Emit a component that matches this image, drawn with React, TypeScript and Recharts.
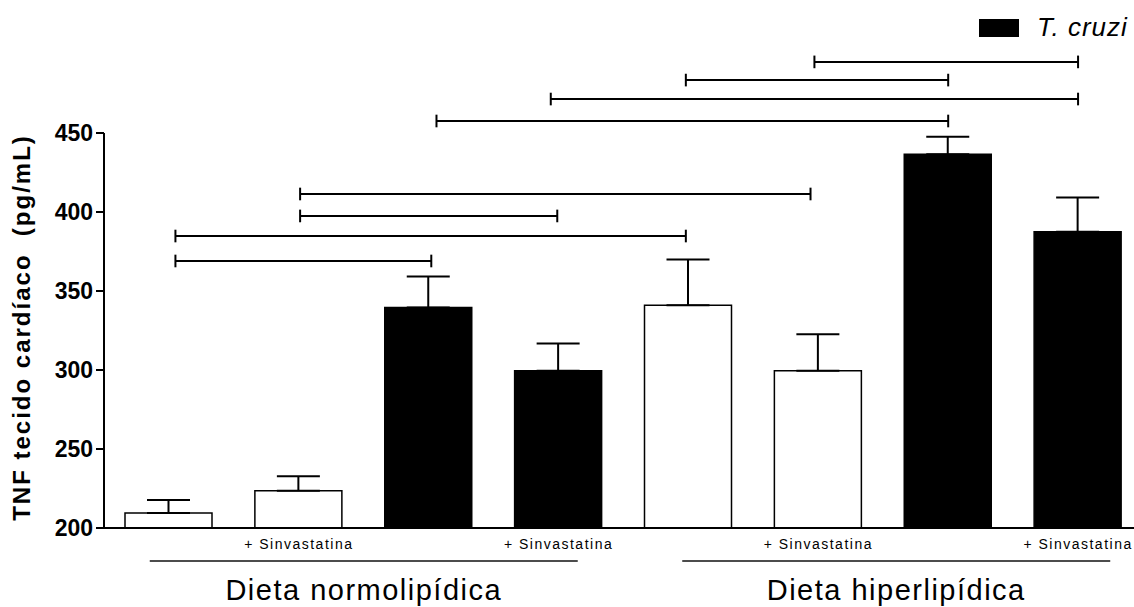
import {
  BarChart,
  Bar,
  Cell,
  XAxis,
  YAxis,
  ErrorBar,
  ReferenceLine,
  Legend,
} from "recharts";

// bar slots along the x axis (0..7), two diets x (control / T. cruzi) x (+/- sinvastatina)
const POSITIONS = [0, 1, 2, 3, 4, 5, 6, 7];
const TREATMENT = ["", "+ Sinvastatina", "", "+ Sinvastatina", "", "+ Sinvastatina", "", "+ Sinvastatina"];
const INFECTED = [false, false, true, true, false, false, true, true];
const TNF_MEAN = [209.5, 223.5, 339.5, 299.5, 341, 299.5, 436.5, 387.5];
const TNF_SEM = [8.2, 9.3, 19.6, 17.3, 29, 23.2, 11.2, 21.7];

const DIET_LABELS = ["Dieta normolipídica", "Dieta hiperlipídica"];
const DIET_CENTERS = [1.5, 5.6];

const Y_TICKS = [200, 250, 300, 350, 400, 450];
const Y_LABEL = "TNF tecido cardíaco  (pg/mL)";
const LEGEND_LABEL = "T. cruzi";

// significance brackets: from slot, to slot, height in pg/mL
const BRACKET_FROM = [4.97, 3.98, 2.94, 2.06, 1.01, 1.01, 0.05, 0.05];
const BRACKET_TO = [7.0, 6.0, 7.0, 6.0, 4.94, 2.99, 3.98, 2.02];
const BRACKET_Y = [495, 483.5, 471.5, 457.6, 411.4, 397.5, 384.8, 369];
const CAP = 4; // half height of bracket end ticks, pg/mL

const FONT = "'Liberation Sans', Arial, Helvetica, sans-serif";
const W = 1143;
const H = 607;

const data = POSITIONS.map((x, i) => ({
  x,
  mean: TNF_MEAN[i],
  err: [0, TNF_SEM[i]],
}));

function TreatmentTick(props: any) {
  const { x, y, payload } = props;
  const label = TREATMENT[payload.value] ?? "";
  return (
    <text
      x={x}
      y={y + 21}
      textAnchor="middle"
      fontSize={14}
      fontFamily={FONT}
      fill="#000"
      style={{ letterSpacing: 1.5 }}
    >
      {label}
    </text>
  );
}

function DietTick(props: any) {
  const { x, y, payload } = props;
  const i = DIET_CENTERS.indexOf(payload.value);
  return (
    <g>
      <line x1={x - 214} x2={x + 214} y1={y + 3} y2={y + 3} stroke="#111" strokeWidth={1.3} />
      <text
        x={x}
        y={y + 42}
        textAnchor="middle"
        fontSize={29}
        fontFamily={FONT}
        fill="#000"
        style={{ letterSpacing: 1.5 }}
      >
        {DIET_LABELS[i]}
      </text>
    </g>
  );
}

function YTitle(props: any) {
  const { viewBox } = props;
  const cx = 30;
  const cy = viewBox.y + viewBox.height / 2 - 3;
  return (
    <text
      x={cx}
      y={cy}
      transform={`rotate(-90 ${cx} ${cy})`}
      textAnchor="middle"
      fontSize={24}
      fontWeight="bold"
      fontFamily={FONT}
      fill="#000"
      style={{ letterSpacing: 2, whiteSpace: "pre" }}
    >
      {Y_LABEL}
    </text>
  );
}

function InfectedLegend() {
  return (
    <div style={{ display: "flex", alignItems: "center", fontFamily: FONT }}>
      <span style={{ display: "inline-block", width: 40, height: 18, background: "#000" }} />
      <span style={{ marginLeft: 18, fontSize: 26, fontStyle: "italic", letterSpacing: 1, color: "#000" }}>
        {LEGEND_LABEL}
      </span>
    </div>
  );
}

export default function App() {
  return (
    <div
      style={{
        position: "fixed",
        left: 0,
        top: 0,
        width: 1134,
        height: 607,
        overflow: "hidden",
        background: "#fff",
      }}
    >
      <BarChart width={W} height={H} data={data} margin={{ top: 133, right: 0, bottom: 0, left: 0 }}>
        <XAxis
          dataKey="x"
          type="number"
          domain={[-0.5, 7.5]}
          ticks={POSITIONS}
          height={30}
          tickSize={0}
          tickMargin={0}
          tickLine={false}
          axisLine={{ stroke: "#000", strokeWidth: 2 }}
          tick={<TreatmentTick />}
          interval={0}
        />
        <XAxis
          xAxisId="diet"
          dataKey="x"
          type="number"
          domain={[-0.5, 7.5]}
          ticks={DIET_CENTERS}
          height={49}
          tickSize={0}
          tickMargin={0}
          tickLine={false}
          axisLine={false}
          tick={<DietTick />}
          interval={0}
        />
        <YAxis
          type="number"
          domain={[200, 450]}
          ticks={Y_TICKS}
          width={104}
          tickSize={8}
          tickMargin={3}
          axisLine={{ stroke: "#000", strokeWidth: 2 }}
          tickLine={{ stroke: "#000", strokeWidth: 2 }}
          tick={{ fontSize: 23, fontWeight: "bold", fill: "#000", fontFamily: FONT }}
          interval={0}
          label={{ content: (p: any) => <YTitle {...p} /> }}
        />
        <Legend
          layout="horizontal"
          verticalAlign="middle"
          align="center"
          wrapperStyle={{ top: 12, left: 979, width: 160 }}
          content={() => <InfectedLegend />}
        />
        <Bar dataKey="mean" barSize={87} stroke="#000" strokeWidth={1.5} isAnimationActive={false}>
          {data.map((d, i) => (
            <Cell key={d.x} fill={INFECTED[i] ? "#000" : "#fff"} />
          ))}
          <ErrorBar dataKey="err" width={21.5} stroke="#000" strokeWidth={2} direction="y" isAnimationActive={false} />
        </Bar>
        {BRACKET_Y.map((y, i) => (
          <ReferenceLine
            key={`b${i}`}
            segment={[
              { x: BRACKET_FROM[i], y },
              { x: BRACKET_TO[i], y },
            ]}
            stroke="#000"
            strokeWidth={2}
            ifOverflow="visible"
          />
        ))}
        {BRACKET_Y.map((y, i) => (
          <ReferenceLine
            key={`l${i}`}
            segment={[
              { x: BRACKET_FROM[i], y: y - CAP },
              { x: BRACKET_FROM[i], y: y + CAP },
            ]}
            stroke="#000"
            strokeWidth={2}
            ifOverflow="visible"
          />
        ))}
        {BRACKET_Y.map((y, i) => (
          <ReferenceLine
            key={`r${i}`}
            segment={[
              { x: BRACKET_TO[i], y: y - CAP },
              { x: BRACKET_TO[i], y: y + CAP },
            ]}
            stroke="#000"
            strokeWidth={2}
            ifOverflow="visible"
          />
        ))}
      </BarChart>
    </div>
  );
}
